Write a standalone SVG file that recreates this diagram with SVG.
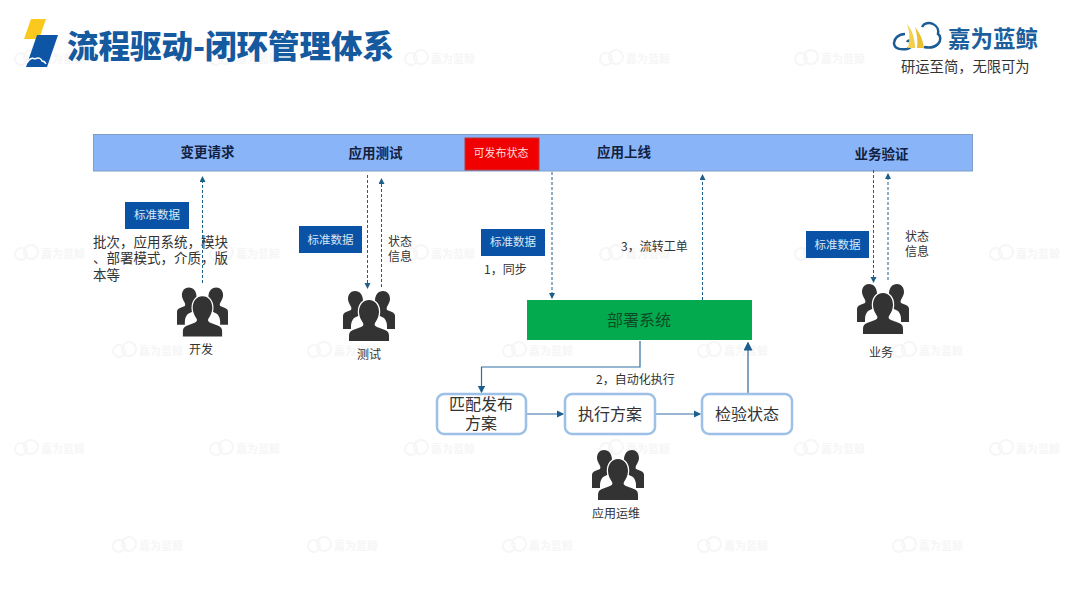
<svg xmlns="http://www.w3.org/2000/svg" width="1080" height="608" viewBox="0 0 1080 608">
<style>
text{font-family:"Noto Sans CJK SC","Noto Sans",sans-serif;fill:#262626}
.bar{font-size:13.5px;font-weight:700;fill:#11213f;text-anchor:middle}
.tag rect{fill:#0a52a5}
.tag text{font-size:11.5px;fill:#d8e8f8;text-anchor:middle}
.lab{font-size:12px;fill:#333;text-anchor:middle}
.lab2{font-size:12px;fill:#333}
.dash{fill:none;stroke:#1c5f8c;stroke-width:1;stroke-dasharray:3 2}
.line{fill:none;stroke:#2f6ea3;stroke-width:1.2}
.box rect{fill:#fff;stroke:#9dc0e6;stroke-width:2.5}
.box text{font-size:16px;fill:#333;text-anchor:middle}
.wm{fill:none;stroke:#f6f6f6;stroke-width:2}
.wmt{font-size:11px;fill:#f6f6f6;font-weight:700}
</style>
<defs>
<marker id="ah" markerWidth="7" markerHeight="7" refX="5" refY="3" orient="auto"><path d="M0 0L6 3L0 6Z" fill="#1c5f8c"/></marker>
<symbol id="people" viewBox="0 0 52 50" overflow="visible">
<path fill="#333" d="M12 0c5 0 8 4 8 10c0 4-2 7-3 10v4l-6 3c-2 2-3 5-3 8v3H0V25c0-2 1-3 3-4l5-2c1-2 0-3-1-5c-1-2-2-4-2-6c0-5 3-8 7-8z"/>
<path fill="#333" d="M40 0c-5 0-8 4-8 10c0 4 2 7 3 10v4l6 3c2 2 3 5 3 8v3h8V25c0-2-1-3-3-4l-5-2c-1-2 0-3 1-5c1-2 2-4 2-6c0-5-3-8-7-8z"/>
<path fill="#333" stroke="#fff" stroke-width="2.500" paint-order="stroke" d="M26 9c6 0 10 5 10 12c0 4-2 8-4 11c-1 2 0 3 2 4l8 3c3 1 4 3 4 6v5H6v-5c0-3 1-5 4-6l8-3c2-1 3-2 2-4c-2-3-4-7-4-11c0-7 4-12 10-12z"/>
</symbol>
<g id="mark"><circle class="wm" cx="7" cy="0" r="6"/><circle class="wm" cx="17" cy="-2" r="7"/><text class="wmt" x="27" y="4">嘉为蓝鲸</text></g>
</defs>

<g id="watermarks">
<use href="#mark" x="14" y="59"/><use href="#mark" x="209" y="59"/><use href="#mark" x="404" y="59"/><use href="#mark" x="599" y="59"/><use href="#mark" x="794" y="59"/>
<use href="#mark" x="112" y="156"/><use href="#mark" x="307" y="156"/><use href="#mark" x="502" y="156"/><use href="#mark" x="697" y="156"/><use href="#mark" x="892" y="156"/>
<use href="#mark" x="14" y="254"/><use href="#mark" x="209" y="254"/><use href="#mark" x="404" y="254"/><use href="#mark" x="599" y="254"/><use href="#mark" x="794" y="254"/><use href="#mark" x="989" y="254"/>
<use href="#mark" x="112" y="351"/><use href="#mark" x="307" y="351"/><use href="#mark" x="502" y="351"/><use href="#mark" x="697" y="351"/><use href="#mark" x="892" y="351"/>
<use href="#mark" x="14" y="449"/><use href="#mark" x="209" y="449"/><use href="#mark" x="404" y="449"/><use href="#mark" x="599" y="449"/><use href="#mark" x="794" y="449"/><use href="#mark" x="989" y="449"/>
<use href="#mark" x="112" y="546"/><use href="#mark" x="307" y="546"/><use href="#mark" x="502" y="546"/><use href="#mark" x="697" y="546"/><use href="#mark" x="892" y="546"/>
</g>

<g id="header">
<path d="M31 19H46L39 39H24Z" fill="#fbc81e"/>
<path d="M37 35H58L47 67H26Z" fill="#0f55a6"/>
<path d="M27 63c2-4 5-6 8-4c3-2 6-1 7 2c2 0 3 1 4 3" fill="none" stroke="#fff" stroke-width="1.500"/>
<text x="67" y="58" font-size="31.500" font-weight="900" style="fill:#15599f">流程驱动-闭环管理体系</text>
</g>
<g id="logo">
<path d="M905 34c-7 0-11 5-11 9c0 6 7 7 13 6c4-1 6-4 5-7c-1-2-4-2-5 0M922 27c2-4 7-5 11-3c4 2 6 6 5 10c3 2 3 7 0 10c-3 3-9 4-14 3" fill="none" stroke="#1c5c94" stroke-width="2.500"/>
<path d="M907 24c5 6 8 14 8 24h-7c2-8 2-16-1-24Z" fill="#f3cf4f"/>
<path d="M915 27c5 6 8 13 9 21h-7c1-7 0-14-2-21Z" fill="#e8c030"/>
<text x="948" y="47" font-size="23" font-weight="700" style="fill:#1c5f9c" textLength="90" lengthAdjust="spacingAndGlyphs">嘉为蓝鲸</text>
<text x="901" y="72" font-size="14.300" style="fill:#333">研运至简，无限可为</text>
</g>

<g id="process-bar">
<rect x="93.500" y="134.500" width="879" height="36.500" fill="#8ab4f8" stroke="#7f9fc9"/>
<text class="bar" x="207.500" y="157">变更请求</text>
<text class="bar" x="375.500" y="158">应用测试</text>
<text class="bar" x="624" y="157">应用上线</text>
<text class="bar" x="881.500" y="159">业务验证</text>
</g>
<g id="publishable-state">
<rect x="465" y="138" width="74" height="32" fill="#f00000" stroke="#b83a3a"/>
<text x="501" y="157" font-size="11" text-anchor="middle" style="fill:#ffdcdc">可发布状态</text>
</g>

<g id="connectors">
<path class="dash" d="M202.500 283V177" marker-end="url(#ah)"/>
<path class="dash" d="M367.500 175V288" marker-end="url(#ah)"/>
<path class="dash" d="M381.500 287V179" marker-end="url(#ah)"/>
<path class="dash" d="M552 172V298" marker-end="url(#ah)"/>
<path class="dash" d="M702.500 300V175" marker-end="url(#ah)"/>
<path class="dash" d="M873.500 170V282" marker-end="url(#ah)"/>
<path class="dash" d="M888 280V174" marker-end="url(#ah)"/>
<path class="line" d="M640 341V367H481.500V392" marker-end="url(#ah)"/>
<path class="line" d="M527 414H563" marker-end="url(#ah)"/>
<path class="line" d="M656 414H700" marker-end="url(#ah)"/>
<path class="line" d="M748 393V343" style="stroke:#5d84a8;stroke-width:1.5" marker-end="url(#ah)"/>
</g>

<g id="tag-1" class="tag"><rect x="125" y="202" width="64" height="27"/><text x="157" y="219">标准数据</text></g>
<g id="tag-2" class="tag"><rect x="299" y="226" width="63" height="27"/><text x="330.500" y="244">标准数据</text></g>
<g id="tag-3" class="tag"><rect x="481" y="229" width="64" height="27"/><text x="513" y="246">标准数据</text></g>
<g id="tag-4" class="tag"><rect x="806" y="231" width="63" height="27"/><text x="837.500" y="249">标准数据</text></g>

<text id="dev-note" class="lab2" style="font-size:13.500px"><tspan x="93" y="247">批次，应用系统，模块</tspan><tspan x="93" y="263">、部署模式，介质，版</tspan><tspan x="93" y="280">本等</tspan></text>

<g id="dev"><use href="#people" x="177" y="287" width="51" height="50"/><text class="lab" x="201" y="354">开发</text></g>
<g id="test"><use href="#people" x="343" y="291" width="52" height="50"/><text class="lab" x="369" y="359">测试</text></g>
<g id="biz"><use href="#people" x="857" y="284" width="52" height="50"/><text class="lab" x="881" y="357">业务</text></g>
<g id="ops"><use href="#people" x="592" y="450" width="52" height="50"/><text class="lab" x="616" y="518">应用运维</text></g>

<text id="test-status" class="lab2"><tspan x="388" y="246">状态</tspan><tspan x="388" y="261">信息</tspan></text>
<text id="biz-status" class="lab2"><tspan x="905" y="241">状态</tspan><tspan x="905" y="256">信息</tspan></text>
<text class="lab2" x="484" y="274">1，同步</text>
<text class="lab2" x="621" y="251">3，流转工单</text>
<text class="lab2" x="596" y="384">2，自动化执行</text>

<g id="deploy-system"><rect x="527" y="300" width="225" height="40" fill="#03ab4e"/><text x="639" y="326" font-size="16" text-anchor="middle" style="fill:#0d4a25">部署系统</text></g>
<g id="match-plan" class="box"><rect x="437" y="394" width="89" height="40" rx="7"/><text><tspan x="481" y="410">匹配发布</tspan><tspan x="481" y="429">方案</tspan></text></g>
<g id="exec-plan" class="box"><rect x="565" y="394" width="90" height="40" rx="7"/><text x="610" y="420">执行方案</text></g>
<g id="verify-state" class="box"><rect x="702" y="394" width="90" height="40" rx="7"/><text x="747" y="420">检验状态</text></g>
</svg>
